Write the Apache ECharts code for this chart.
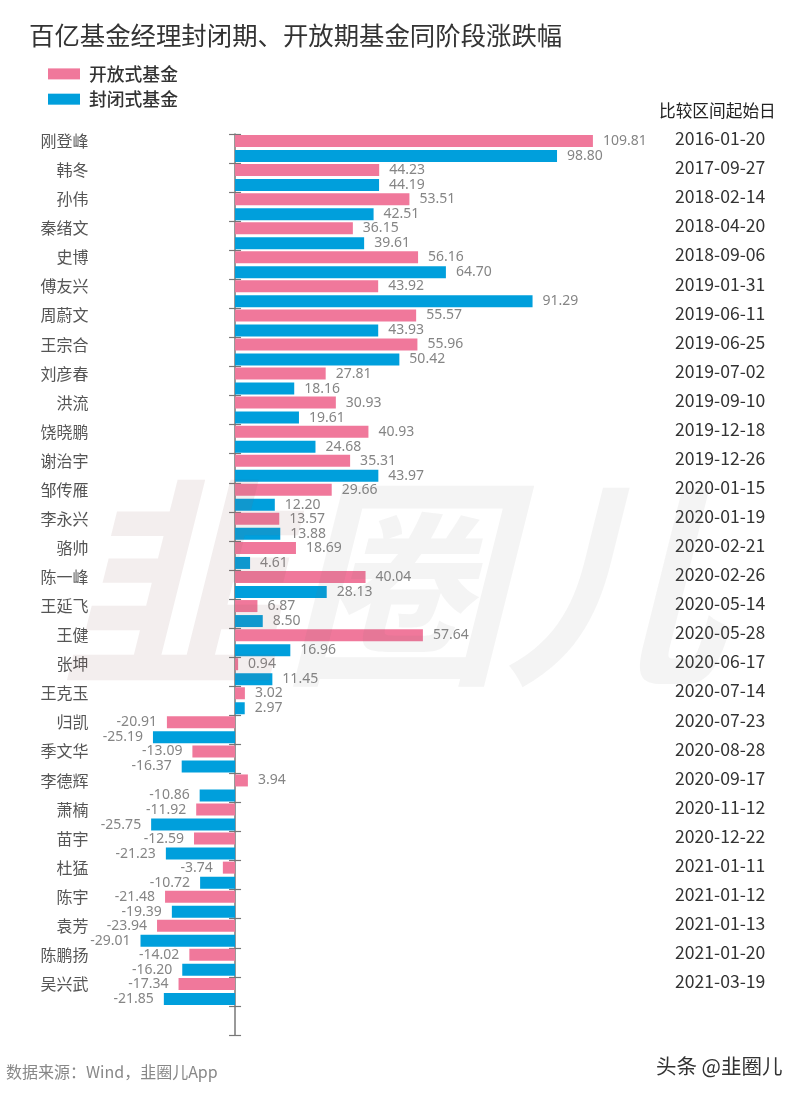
<!DOCTYPE html>
<html>
<head>
<meta charset="utf-8">
<style>html,body{margin:0;background:#fff}#chart{width:800px;height:1094px}</style>
<script src="https://cdn.jsdelivr.net/npm/echarts@6/dist/echarts.min.js"></script>
</head>
<body>
<div id="chart"></div>
<script>
var managers = ['刚登峰','韩冬','孙伟','秦绪文','史博','傅友兴','周蔚文','王宗合','刘彦春','洪流','饶晓鹏','谢治宇','邹传雁','李永兴','骆帅','陈一峰','王延飞','王健','张坤','王克玉','归凯','季文华','李德辉','萧楠','苗宇','杜猛','陈宇','袁芳','陈鹏扬','吴兴武',''];
var startDates = ['2016-01-20','2017-09-27','2018-02-14','2018-04-20','2018-09-06','2019-01-31','2019-06-11','2019-06-25','2019-07-02','2019-09-10','2019-12-18','2019-12-26','2020-01-15','2020-01-19','2020-02-21','2020-02-26','2020-05-14','2020-05-28','2020-06-17','2020-07-14','2020-07-23','2020-08-28','2020-09-17','2020-11-12','2020-12-22','2021-01-11','2021-01-12','2021-01-13','2021-01-20','2021-03-19',''];
var openFund = [109.81,44.23,53.51,36.15,56.16,43.92,55.57,55.96,27.81,30.93,40.93,35.31,29.66,13.57,18.69,40.04,6.87,57.64,0.94,3.02,-20.91,-13.09,3.94,-11.92,-12.59,-3.74,-21.48,-23.94,-14.02,-17.34];
var closedFund = [98.80,44.19,42.51,39.61,64.70,91.29,43.93,50.42,18.16,19.61,24.68,43.97,12.20,13.88,4.61,28.13,8.50,16.96,11.45,2.97,-25.19,-16.37,-10.86,-25.75,-21.23,-10.72,-19.39,-29.01,-16.20,-21.85];

var CJK = '"Noto Sans CJK SC"';
var chart = echarts.init(document.getElementById('chart'));

// negative bars carry their label on the left
function signedLabel(v) {
  return v < 0 ? { value: v, label: { position: 'left' } } : v;
}

function barSeries(name, data, color) {
  return {
    name: name,
    type: 'bar',
    data: data.map(signedLabel),
    yAxisIndex: 0,
    barWidth: 12,
    barGap: '25%',
    itemStyle: { color: color },
    label: {
      show: true,
      position: 'right',
      distance: 10,
      color: '#858585',
      fontFamily: '"Noto Sans"',
      fontSize: 14,
      formatter: function (p) { return p.value.toFixed(2); }
    }
  };
}

function plainTitle(text, left, top, size, color) {
  return { text: text, left: left, top: top, padding: 0, textStyle: { fontFamily: CJK, fontSize: size, fontWeight: 'normal', color: color } };
}

chart.setOption({
  animation: false,
  backgroundColor: '#fff',
  title: [
    plainTitle('百亿基金经理封闭期、开放期基金同阶段涨跌幅', 29, 23, 25.4, '#333'),
    plainTitle('比较区间起始日', 659, 102, 16.7, '#222'),
    plainTitle('数据来源：Wind，韭圈儿App', 6, 1064, 16, '#888'),
    plainTitle('头条 @韭圈儿', 656, 1056, 20.5, '#333')
  ],
  legend: {
    orient: 'vertical',
    left: 48,
    top: 65,
    padding: 0,
    itemWidth: 32,
    itemHeight: 11,
    itemGap: 7.5,
    icon: 'rect',
    textStyle: { fontFamily: CJK, fontSize: 17.8, fontWeight: 500, color: '#333', padding: [0, 0, 0, 4] },
    data: ['开放式基金', '封闭式基金']
  },
  grid: { left: 88.4, right: 125, top: 134, bottom: 59 },
  xAxis: { type: 'value', min: -45, max: 135, show: false },
  yAxis: [
    {
      type: 'category', inverse: true, data: managers, position: 'left',
      axisLine: { show: false, onZero: false }, axisTick: { show: false },
      axisLabel: { margin: 0, interval: 0, color: '#555', fontFamily: CJK, fontSize: 16, verticalAlign: 'bottom', lineHeight: 15 }
    },
    {
      type: 'category', inverse: true, data: startDates, position: 'right',
      axisLine: { show: false, onZero: false }, axisTick: { show: false },
      axisLabel: { margin: 0, interval: 0, color: '#333', fontFamily: CJK, fontSize: 17.6, verticalAlign: 'bottom', lineHeight: 20 }
    },
    {
      type: 'category', inverse: true, data: managers, position: 'left',
      axisLine: { show: true, onZero: true, onZeroAxisIndex: 0, lineStyle: { color: '#777', width: 1.5 } },
      axisTick: { show: true, length: 6, lineStyle: { color: '#777', width: 1.2 } },
      axisLabel: { show: false }
    },
    {
      type: 'category', inverse: true, data: managers, position: 'left',
      axisLine: { show: false, onZero: true, onZeroAxisIndex: 0 },
      axisTick: { show: true, inside: true, length: 6, lineStyle: { color: '#777', width: 1.2 } },
      axisLabel: { show: false }
    }
  ],
  graphic: [
    {
      type: 'text', left: 60, top: 472, z: 100, silent: true,
      style: { text: '韭圈儿', font: 'italic bold 222px "Noto Sans CJK SC"', fill: 'rgba(110,110,110,0.08)' }
    },
    {
      type: 'text', left: 60, top: 472, z: 101, silent: true,
      style: { text: '韭', font: 'italic bold 222px "Noto Sans CJK SC"', fill: 'rgba(240,90,90,0.035)' }
    }
  ],
  series: [
    barSeries('开放式基金', openFund, '#f0789b'),
    barSeries('封闭式基金', closedFund, '#009fdc')
  ]
});
</script>
</body>
</html>
